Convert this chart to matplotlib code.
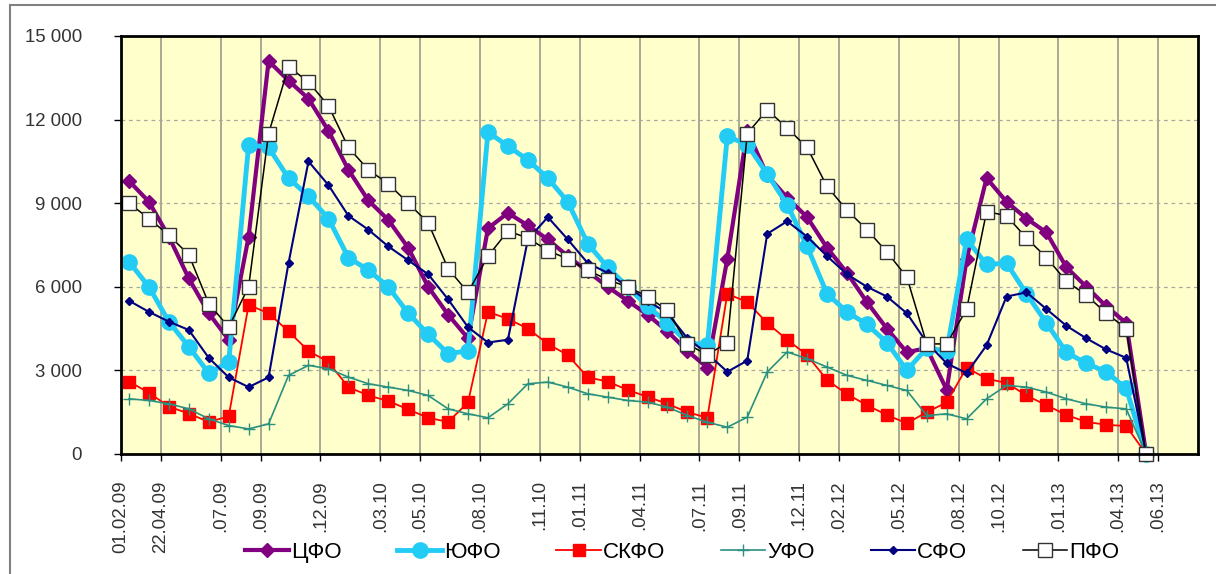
import numpy as np
import matplotlib
matplotlib.use("Agg")
import matplotlib.pyplot as plt
import matplotlib.transforms as mtransforms
from matplotlib.patches import Rectangle

plt.rcParams['font.family'] = ['Liberation Sans', 'DejaVu Sans']

# Данные по федеральным округам (помесячно, 52 точки)
cfo = [9800, 9050, 7800, 6300, 5050, 4100, 7800, 14100, 13400, 12750,
       11600, 10200, 9100, 8400, 7400, 6000, 5000, 4150, 8100, 8650,
       8200, 7700, 7100, 6550, 6000, 5500, 5000, 4400, 3700, 3100,
       7000, 11600, 10000, 9200, 8500, 7400, 6500, 5450, 4500, 3650,
       3800, 2300, 7000, 9900, 9050, 8450, 7950, 6700, 6000, 5300,
       4700, 0]
yufo = [6900, 6000, 4750, 3850, 2900, 3300, 11100, 11000, 9900, 9250,
        8450, 7050, 6600, 6000, 5050, 4300, 3600, 3700, 11550, 11050,
        10550, 9900, 9050, 7550, 6700, 6000, 5300, 4700, 4000, 3900,
        11400, 11100, 10050, 8950, 7450, 5750, 5100, 4650, 4000, 3000,
        3800, 3700, 7700, 6800, 6850, 5750, 4700, 3650, 3250, 2950,
        2350, 0]
skfo = [2600, 2200, 1700, 1450, 1150, 1350, 5350, 5050, 4400, 3700,
        3300, 2400, 2100, 1900, 1600, 1300, 1150, 1850, 5100, 4850,
        4500, 3950, 3550, 2750, 2600, 2300, 2050, 1800, 1500, 1300,
        5750, 5450, 4700, 4100, 3550, 2650, 2150, 1750, 1400, 1100,
        1500, 1850, 3100, 2700, 2550, 2100, 1750, 1400, 1150, 1050,
        1000, 0]
ufo = [1980, 1920, 1800, 1620, 1260, 1020, 900, 1080, 2820, 3180,
       3060, 2760, 2520, 2400, 2280, 2100, 1620, 1440, 1300, 1800,
       2520, 2580, 2400, 2160, 2040, 1920, 1860, 1680, 1380, 1140,
       960, 1320, 2940, 3660, 3420, 3120, 2820, 2640, 2460, 2280,
       1380, 1440, 1260, 1980, 2460, 2400, 2220, 1980, 1800, 1680,
       1620, 0]
sfo = [5500, 5100, 4750, 4450, 3450, 2750, 2400, 2750, 6850, 10500,
       9650, 8550, 8050, 7450, 6950, 6450, 5550, 4550, 4000, 4100,
       7700, 8500, 7700, 6850, 6500, 6000, 5500, 5050, 4150, 3600,
       2950, 3350, 7900, 8350, 7800, 7100, 6450, 6000, 5650, 5050,
       4000, 3250, 2900, 3900, 5650, 5800, 5200, 4600, 4150, 3750,
       3450, 0]
pfo = [9000, 8450, 7850, 7150, 5400, 4550, 6000, 11500, 13900, 13350,
       12500, 11000, 10200, 9700, 9000, 8300, 6650, 5800, 7100, 8000,
       7750, 7300, 7000, 6600, 6250, 6000, 5650, 5150, 3950, 3550,
       4000, 11500, 12350, 11700, 11000, 9600, 8750, 8050, 7250, 6350,
       3950, 3950, 5200, 8700, 8550, 7750, 7050, 6200, 5700, 5050,
       4500, 0]

# Подписи оси X (месяц от 02.2009) — видимая часть текста
tick_months = [0, 2, 5, 7, 10, 13, 15, 18, 21, 23, 26, 29, 31, 34, 36, 39, 42, 44, 47, 50, 52]
tick_labels = ['01.02.09', '22.04.09', '.07.09', '.09.09', '.12.09', '.03.10', '.05.10',
               '.08.10', '.11.10', '.01.11', '.04.11', '.07.11', '.09.11', '.12.11',
               '.02.12', '.05.12', '.08.12', '.10.12', '.01.13', '.04.13', '.06.13']

fig = plt.figure(figsize=(12.16, 5.74), dpi=100)
ax = fig.add_axes([0.0995, 0.2091, 0.8857, 0.7282])
ax.set_facecolor('#FFFFCC')

x = np.arange(len(cfo)) + 0.4

ax.plot(x, cfo, color='#800080', lw=3, marker='D', ms=7.5, label='ЦФО', clip_on=False)
ax.plot(x, yufo, color='#22CCF5', lw=3.5, marker='o', ms=11, label='ЮФО', clip_on=False)
ax.plot(x, skfo, color='#FF0000', lw=1.3, marker='s', ms=8.5, label='СКФО', clip_on=False)
ax.plot(x, ufo, color='#2A9080', lw=1.2, marker='+', ms=8, mew=1, label='УФО', clip_on=False)
ax.plot(x, sfo, color='#000080', lw=1.5, marker='D', ms=4.2, label='СФО', clip_on=False)
ax.plot(x, pfo, color='black', lw=1.1, marker='s', ms=10, mfc='white', mec='#333333',
        mew=1, label='ПФО', clip_on=False)

ax.set_xlim(0, 54)
ax.set_ylim(0, 15000)

yt = np.arange(0, 15001, 3000)
ax.set_yticks(yt)
ax.set_yticklabels([f"{v:,.0f}".replace(",", " ") for v in yt])
ax.set_xticks(tick_months)
ax.set_xticklabels(tick_labels, rotation=90, va='top', ha='center')

# подписи смещены вправо, как в оригинале
offset = mtransforms.ScaledTranslation(0.09, 0, fig.dpi_scale_trans)
for lbl in ax.get_xticklabels():
    lbl.set_transform(lbl.get_transform() + offset)

ax.tick_params(axis='y', length=5, width=1, pad=23, labelsize=13.4, labelcolor='#333333')
ax.tick_params(axis='x', length=5, width=1, pad=14, labelsize=13.4, labelcolor='#333333')

ax.yaxis.grid(True, linestyle=(0, (3, 3)), color='#A8A8A0', lw=0.9)
ax.xaxis.grid(True, linestyle='-', color='#9A9A8A', lw=1.2)
ax.set_axisbelow(True)

for s in ax.spines.values():
    s.set_linewidth(2)
    s.set_color('black')

fig.legend(loc='center', bbox_to_anchor=(0.561, 0.037), ncol=6, frameon=False,
           fontsize=16, handlelength=2.0, handletextpad=0.1, columnspacing=2.5,
           numpoints=1)

# рамка диаграммы
fig.patches.append(Rectangle((9.5 / 1216, -0.1), 1.2, 1.1 - 5 / 574 + 0.0,
                             transform=fig.transFigure, fill=False,
                             edgecolor='#808080', lw=1.5, clip_on=False))

fig.savefig('out.png', dpi=100)
